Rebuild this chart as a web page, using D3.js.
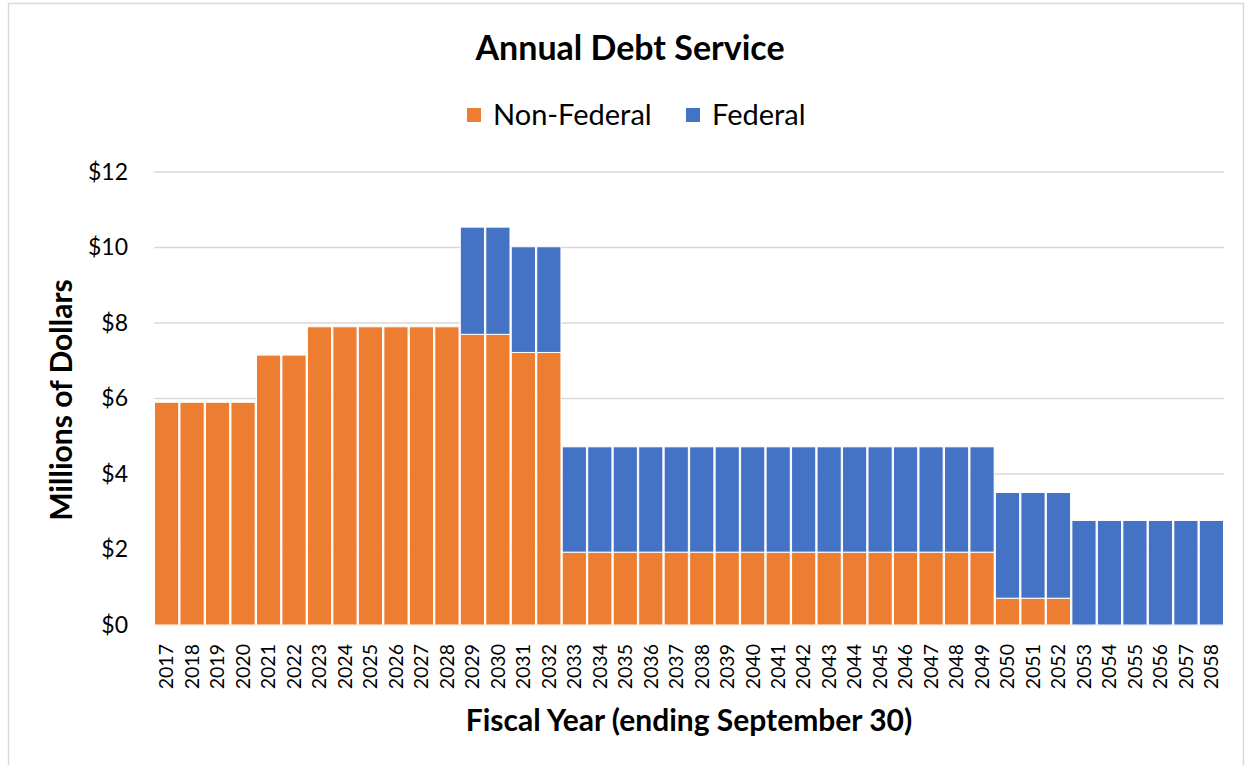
<!DOCTYPE html>
<html>
<head>
<meta charset="UTF-8" />
<title>Annual Debt Service</title>
<script src="https://cdn.jsdelivr.net/npm/d3@7"></script>
<style>
  body { margin: 0; background: #fff; }
  text { font-family: Lato, "Open Sans", "Liberation Sans", sans-serif; fill: #000; }
</style>
</head>
<body>
<svg id="chart"></svg>
<script>
// data (millions of dollars)
var years = d3.range(2017, 2059).map(String);
var nonFederal = [5.9, 5.9, 5.9, 5.9, 7.15, 7.15, 7.9, 7.9, 7.9, 7.9, 7.9, 7.9,
  7.7, 7.7, 7.22, 7.22,
  1.93, 1.93, 1.93, 1.93, 1.93, 1.93, 1.93, 1.93, 1.93, 1.93, 1.93, 1.93, 1.93, 1.93, 1.93, 1.93, 1.93,
  0.71, 0.71, 0.71,
  0, 0, 0, 0, 0, 0];
var federal = [0, 0, 0, 0, 0, 0, 0, 0, 0, 0, 0, 0,
  2.84, 2.84, 2.8, 2.8,
  2.79, 2.79, 2.79, 2.79, 2.79, 2.79, 2.79, 2.79, 2.79, 2.79, 2.79, 2.79, 2.79, 2.79, 2.79, 2.79, 2.79,
  2.8, 2.8, 2.8,
  2.77, 2.77, 2.77, 2.77, 2.77, 2.77];
var seriesNames = ["Non-Federal", "Federal"];
var seriesColors = ["#ED7D31", "#4472C4"];
var yTicks = [0, 2, 4, 6, 8, 10, 12];

var W = 1250, H = 765;
var m = { left: 154, right: 1224, top: 172, bottom: 625 };

var svg = d3.select("#chart").attr("width", W).attr("height", H);

// chart border
svg.append("rect").attr("x", 8.5).attr("y", 3.5).attr("width", 1235).attr("height", 780)
  .attr("fill", "none").attr("stroke", "#d9d9d9").attr("stroke-width", 1.5);

var rows = years.map(function(y, i) {
  return { year: y, "Non-Federal": nonFederal[i], "Federal": federal[i] };
});
var stack = d3.stack().keys(seriesNames)(rows);

var x = d3.scaleBand().domain(years).range([m.left, m.right]).paddingInner(0.05).paddingOuter(0.02);
var y = d3.scaleLinear().domain([0, 12]).range([m.bottom, m.top]);

// gridlines
svg.append("g").selectAll("line").data(yTicks).enter().append("line")
  .attr("x1", m.left).attr("x2", m.right)
  .attr("y1", function(d) { return y(d); }).attr("y2", function(d) { return y(d); })
  .attr("stroke", "#d9d9d9").attr("stroke-width", 1.5);

// bars
svg.append("g").selectAll("g").data(stack).enter().append("g")
  .attr("fill", function(d, i) { return seriesColors[i]; })
  .selectAll("rect").data(function(d) { return d.filter(function(s) { return s[1] - s[0] > 0; }); })
  .enter().append("rect")
  .attr("x", function(d) { return x(d.data.year); })
  .attr("width", x.bandwidth())
  .attr("y", function(d) { return y(d[1]); })
  .attr("height", function(d) { return y(d[0]) - y(d[1]); })
  .attr("stroke", "#fff").attr("stroke-width", 1);

// y axis
var yAxis = d3.axisLeft(y).tickValues(yTicks).tickSize(0).tickPadding(26)
  .tickFormat(function(d) { return "$" + d; });
var gy = svg.append("g").attr("transform", "translate(" + m.left + ",0)").call(yAxis);
gy.select(".domain").remove();
gy.selectAll("text").style("font-size", "23px").attr("fill", "#000");

// x axis
var xAxis = d3.axisBottom(x).tickSize(0);
var gx = svg.append("g").attr("transform", "translate(0," + m.bottom + ")").call(xAxis);
gx.select(".domain").remove();
gx.selectAll("text").style("font-size", "19.5px").attr("fill", "#000")
  .attr("transform", "rotate(-90)")
  .attr("text-anchor", "end").attr("dx", "-19px").attr("dy", "0.35em")
  .attr("x", 0).attr("y", 0);

// titles
svg.append("text").attr("x", 630).attr("y", 60).attr("text-anchor", "middle")
  .style("font-size", "34px").style("font-weight", "bold").text("Annual Debt Service");

svg.append("text").attr("x", 689).attr("y", 731).attr("text-anchor", "middle")
  .style("font-size", "30px").style("font-weight", "bold").text("Fiscal Year (ending September 30)");

svg.append("text").attr("transform", "translate(72,400) rotate(-90)").attr("text-anchor", "middle")
  .style("font-size", "30px").style("font-weight", "bold").text("Millions of Dollars");

// legend
var legendX = [467, 686];
var lg = svg.append("g").selectAll("g").data(seriesNames).enter().append("g")
  .attr("transform", function(d, i) { return "translate(" + legendX[i] + ",108)"; });
lg.append("rect").attr("width", 14).attr("height", 14)
  .attr("fill", function(d, i) { return seriesColors[i]; });
lg.append("text").attr("x", 26).attr("y", 17).style("font-size", "29px").text(function(d) { return d; });
</script>
</body>
</html>
